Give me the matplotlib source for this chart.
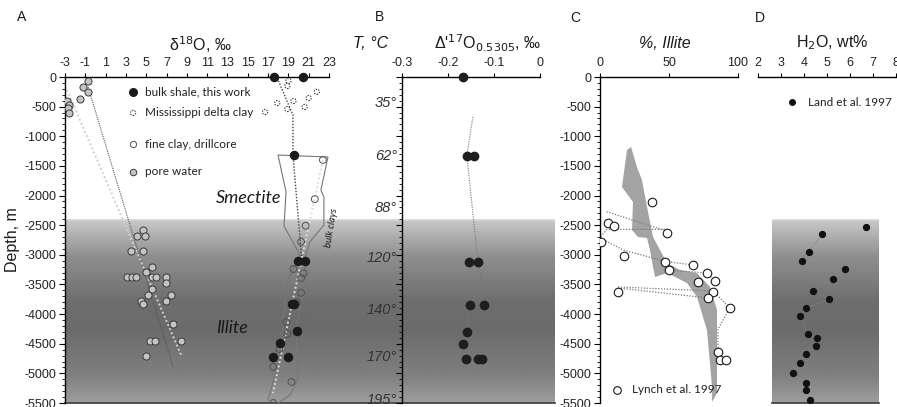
import numpy as np
import matplotlib
import matplotlib.pyplot as plt
from matplotlib.ticker import MultipleLocator

matplotlib.rcParams['font.family'] = 'Liberation Sans'
matplotlib.rcParams['axes.unicode_minus'] = False
matplotlib.rcParams['axes.linewidth'] = 1.0

W, H = 897, 407

# ---- panel A: d18O ----
pore_x = [-0.73, -1.2, -0.73, -1.5, -2.8, -2.6, -2.7, -2.6,
          4.68, 4.09, 4.88, 3.5, 4.68, 5.57, 4.98, 3.1, 3.6, 4.0, 5.57, 5.97,
          6.95, 6.95, 5.57, 5.2, 7.44, 4.5, 4.68, 6.95, 7.64, 5.4, 5.9, 8.43, 4.98]
pore_d = [-67, -168, -252, -369, -402, -470, -520, -604,
          -2582, -2683, -2683, -2934, -2934, -3203, -3286, -3370, -3370, -3370, -3370, -3370,
          -3370, -3471, -3571, -3672, -3672, -3773, -3823, -3773, -4175, -4460, -4460, -4460, -4712]

shale_x = [17.6, 20.45, 19.56, 19.96, 20.65, 19.4, 19.6, 19.85, 18.2, 17.5, 19.0]
shale_d = [0, 0, -1310, -3100, -3100, -3830, -3830, -4285, -4490, -4725, -4725]

delta_x = [19.0, 18.9, 21.8, 21.0, 19.5, 17.9, 20.6, 18.9, 16.7]
delta_d = [-67, -150, -250, -355, -405, -440, -505, -540, -590]

fine_x = [22.4, 21.6, 20.7, 20.25, 19.5, 20.5, 20.25, 20.25, 19.85, 18.8, 18.9,
          18.1, 17.5, 19.3, 17.5]
fine_d = [-1400, -2060, -2510, -2780, -3240, -3310, -3390, -3640, -3800, -4135, -4335,
          -4590, -4890, -5145, -5500]

# envelope of bulk clays
env_x = [16.99, 17.68, 18.37, 18.47, 18.96, 20.14, 18.57, 18.77, 17.98,
         22.9, 22.2, 22.5, 22.5, 21.1, 20.6, 20.7, 20.3, 19.75, 19.85, 19.95, 19.16, 17.98]
env_d = [-5449, -5027, -4606, -4099, -3425, -3003, -2514, -1940, -1316,
         -1350, -1907, -2024, -2497, -2784, -3087, -3509, -3762, -4268, -4690, -5078, -5365, -5500]

# trend lines
pore_trend1_x = [-0.73, 7.64]
pore_trend1_d = [-169, -4892]
pore_trend2_x = [-2.8, 8.52]
pore_trend2_d = [-219, -4724]
shale_trend_x = [17.9, 19.45, 19.45, 20.34]
shale_trend_d = [-17, -641, -1316, -3121]
fine_trend_x = [22.4, 17.48]
fine_trend_d = [-1400, -5331]

# ---- panel B: D'17O ----
cap_x = [-0.167, -0.159, -0.143, -0.154, -0.135, -0.152, -0.122, -0.159, -0.167,
         -0.161, -0.135, -0.126]
cap_d = [0, -1330, -1330, -3120, -3120, -3840, -3840, -4300, -4500, -4760, -4760, -4760]
cap_line_x = [-0.146, -0.159, -0.135, -0.125, -0.152, -0.159, -0.167, -0.13, -0.135]
cap_line_d = [-675, -1330, -3120, -3450, -3840, -4300, -4500, -4620, -4760]
temps = [35, 62, 88, 120, 140, 170, 195]
temp_d = [-439, -1333, -2210, -3053, -3931, -4724, -5449]

# ---- panel C: % illite ----
band_x = [22.5, 26.8, 30.4, 34.1, 38.4, 48.6, 58, 70.3, 79.7, 84.8, 84.8, 81.2,
          81.2, 77.5, 70.3, 63, 48.6, 39.9, 38.4, 36.2, 34.1, 27.5, 23.2, 23.9, 15.9, 19.6]
band_d = [-1181, -1518, -1738, -2193, -2699, -3138, -3256, -3307, -3543, -3931, -5331, -5483,
          -5230, -4268, -3711, -3475, -3307, -3374, -3205, -2919, -2716, -2699, -2581, -2109, -1856, -1231]

lynch_x = [37.7, 5.8, 10.1, 48.6, 0.7, 17.4, 47.1, 67.4, 50, 77.5, 83.3, 71, 81.9, 13,
           78.3, 94.2, 85.5, 87, 91.3]
lynch_d = [-2109, -2463, -2514, -2632, -2784, -3020, -3121, -3172, -3256, -3307, -3442, -3459,
           -3627, -3627, -3728, -3897, -4639, -4774, -4774]

lynch_lines = [
    ([4.8, 48.3], [-2272, -2600]),
    ([0.5, 5, 48.3], [-2694, -2570, -2570]),
    ([0.5, 17, 47, 67.4], [-2720, -2920, -3110, -3172]),
    ([47.1, 50, 77.5, 83.3], [-3121, -3256, -3307, -3442]),
    ([13, 81.9, 94.2, 85.5, 85.5], [-3543, -3610, -3897, -4250, -4639]),
    ([13, 78.3], [-3560, -3728]),
]

# ---- panel D: H2O ----
land_x = [6.7, 4.78, 4.2, 3.9, 5.8, 5.27, 4.4, 5.1, 4.1, 3.83, 4.17, 4.57, 4.52, 4.1,
          3.83, 3.52, 4.1, 4.1, 4.26]
land_d = [-2530, -2649, -2952, -3104, -3239, -3408, -3610, -3745, -3897, -4032, -4335,
          -4403, -4538, -4673, -4825, -4993, -5162, -5280, -5449]

fig = plt.figure(figsize=(W / 100, H / 100), dpi=100)

# shaded deep (illite) zone behind the panels
bg = fig.add_axes([0, 0, 1, 1], zorder=0)
bg.set_xlim(0, W)
bg.set_ylim(H, 0)
bg.axis('off')
t = np.linspace(0, 1, 300)
shade = np.interp(t, [0, 0.01, 0.2, 0.45, 0.6, 0.85, 1.0],
                  [0.88, 0.78, 0.56, 0.43, 0.42, 0.5, 0.62])
img = np.repeat(shade[:, None], 2, axis=1)
for x0, x1 in [(65, 555), (772, 879)]:
    bg.imshow(img, extent=[x0, x1, 403, 219], aspect='auto', cmap='gray',
              vmin=0, vmax=1, interpolation='bilinear')
    bg.plot([x0, x1], [403, 403], color='#3a3a3a', lw=1.2)


def panel(left, xlim, xticks, xlabels):
    ax = fig.add_axes([left / W, 1 - 403 / H, 138 / W if left > 100 else 264 / W, 326 / H],
                      zorder=1)
    ax.set_facecolor('none')
    ax.set_xlim(*xlim)
    ax.set_ylim(-5500, 0)
    ax.xaxis.tick_top()
    ax.set_xticks(xticks)
    ax.set_xticklabels(xlabels)
    ax.spines['right'].set_visible(False)
    ax.spines['bottom'].set_visible(False)
    ax.tick_params(axis='x', direction='out', length=3, pad=3, labelsize=9)
    ax.yaxis.set_major_locator(MultipleLocator(500))
    ax.yaxis.set_minor_locator(MultipleLocator(100))
    ax.tick_params(axis='y', which='major', direction='out', length=4, pad=2, labelsize=9)
    ax.tick_params(axis='y', which='minor', direction='out', length=2)
    for lab in ax.get_xticklabels() + ax.get_yticklabels():
        lab.set_color('#222222')
    return ax


# A
ax_a = panel(65, (-3, 23), list(range(-3, 24, 2)), [str(v) for v in range(-3, 24, 2)])
ax_a.plot(pore_trend1_x, pore_trend1_d, color='#555555', lw=0.8, ls=(0, (1, 1)))
ax_a.plot(pore_trend2_x, pore_trend2_d, color='#d0d0d0', lw=1.4, ls=(0, (1, 1.3)))
ax_a.plot(env_x, env_d, color='#777777', lw=0.8)
ax_a.plot(shale_trend_x, shale_trend_d, color='#444444', lw=1.0, ls=(0, (1, 1.2)))
ax_a.plot(fine_trend_x, fine_trend_d, color='#dddddd', lw=1.4, ls=(0, (1, 1.3)))
ax_a.scatter(pore_x, pore_d, s=26, facecolor='#c4c4c4', edgecolor='#3a3a3a', lw=0.7, zorder=3)
ax_a.scatter(fine_x, fine_d, s=24, facecolor='none', edgecolor='#505050', lw=0.7, zorder=3)
ax_a.scatter(delta_x, delta_d, s=14, facecolor='white', edgecolor='#333333', lw=0.8,
             linestyle=(0, (1.2, 1.2)), zorder=3)
ax_a.scatter(shale_x, shale_d, s=34, color='#1a1a1a', zorder=4, clip_on=False)

leg_font = dict(fontsize=8.5, family='Lato', color='#222222', va='center')
leg_rows = [(0.954, 'bulk shale, this work'), (0.89, 'Mississippi delta clay'),
            (0.794, 'fine clay, drillcore'), (0.709, 'pore water')]
ax_a.scatter([0.258], [leg_rows[0][0]], s=30, color='#1a1a1a', transform=ax_a.transAxes)
ax_a.scatter([0.258], [leg_rows[1][0]], s=14, facecolor='white', edgecolor='#333333', lw=0.8,
             linestyle=(0, (1.2, 1.2)), transform=ax_a.transAxes)
ax_a.scatter([0.258], [leg_rows[2][0]], s=20, facecolor='white', edgecolor='#505050', lw=0.7,
             transform=ax_a.transAxes)
ax_a.scatter([0.258], [leg_rows[3][0]], s=22, facecolor='#c4c4c4', edgecolor='#3a3a3a', lw=0.7,
             transform=ax_a.transAxes)
for yy, txt in leg_rows:
    ax_a.text(0.303, yy, txt, transform=ax_a.transAxes, **leg_font)

ax_a.text(15.1, -2041, 'Smectite', fontsize=13, style='italic', family='Lato',
          ha='center', va='center', color='#1a1a1a')
ax_a.text(13.5, -4234, 'Illite', fontsize=13, style='italic', family='Lato',
          ha='center', va='center', color='#1a1a1a')
ax_a.text(23.3, -2547, 'bulk clays', fontsize=7, style='italic', family='Lato',
          rotation=81, ha='center', va='center', color='#1a1a1a')

# B
ax_b = panel(402, (-0.3, 0), [-0.3, -0.2, -0.1, 0], ['-0.3', '-0.2', '-0.1', '0'])
ax_b.tick_params(axis='y', which='both', labelleft=False)
ax_b.plot(cap_line_x, cap_line_d, color='#777777', lw=0.8, ls=(0, (1, 1.2)))
ax_b.scatter(cap_x, cap_d, s=36, color='#1e1e1e', zorder=4, clip_on=False)
for tc, dd in zip(temps, temp_d):
    ax_b.text(-0.035, dd, f'{tc}°', transform=ax_b.get_yaxis_transform(), ha='right',
              va='center', fontsize=10.5, style='italic', color='#333333')

# C
ax_c = panel(600, (0, 100), [0, 50, 100], ['0', '50', '100'])
ax_c.fill(band_x, band_d, color='#a3a3a3', lw=0)
for lx, ld in lynch_lines:
    ax_c.plot(lx, ld, color='#777777', lw=0.9, ls=(0, (1, 1.3)))
ax_c.scatter(lynch_x, lynch_d, s=38, facecolor='white', edgecolor='#1a1a1a', lw=0.8, zorder=3)
ax_c.scatter([0.123], [0.04], s=30, facecolor='white', edgecolor='#1a1a1a', lw=0.8,
             transform=ax_c.transAxes)
ax_c.text(0.232, 0.04, 'Lynch et al. 1997', transform=ax_c.transAxes, **leg_font)

# D
ax_d = panel(758, (2, 8), list(range(2, 9)), [str(v) for v in range(2, 9)])
ax_d.spines['left'].set_visible(False)
ax_d.tick_params(axis='y', which='both', left=False, labelleft=False)
ax_d.plot(land_x[1:], land_d[1:], color='#888888', lw=0.8, ls=(0, (1, 1.3)))
ax_d.scatter(land_x, land_d, s=18, color='#111111', zorder=3)
ax_d.scatter([0.246], [0.923], s=16, color='#111111', transform=ax_d.transAxes)
ax_d.text(0.362, 0.923, 'Land et al. 1997', transform=ax_d.transAxes, **leg_font)

# panel letters and axis titles
def ftext(x, y, s, **kw):
    fig.text(x / W, 1 - y / H, s, ha='center', va='center', color='#1a1a1a', **kw)

ftext(22, 17, 'A', fontsize=10)
ftext(379, 17, 'B', fontsize=10)
ftext(575, 18, 'C', fontsize=10)
ftext(760, 18, 'D', fontsize=10)
ftext(200, 45, r'δ$^{18}$O, ‰', fontsize=11.5)
ftext(371, 43, 'T, °C', fontsize=11.5, style='italic')
ftext(488, 43, r"Δ'$^{17}$O$_{0.5305}$, ‰", fontsize=11.5)
ftext(665, 43, '%, Illite', fontsize=11.5, style='italic')
ftext(832, 43, r'H$_2$O, wt%', fontsize=11.5)
ftext(13, 240, 'Depth, m', fontsize=11.5, rotation=90)

fig.savefig('out.png', dpi=100)
